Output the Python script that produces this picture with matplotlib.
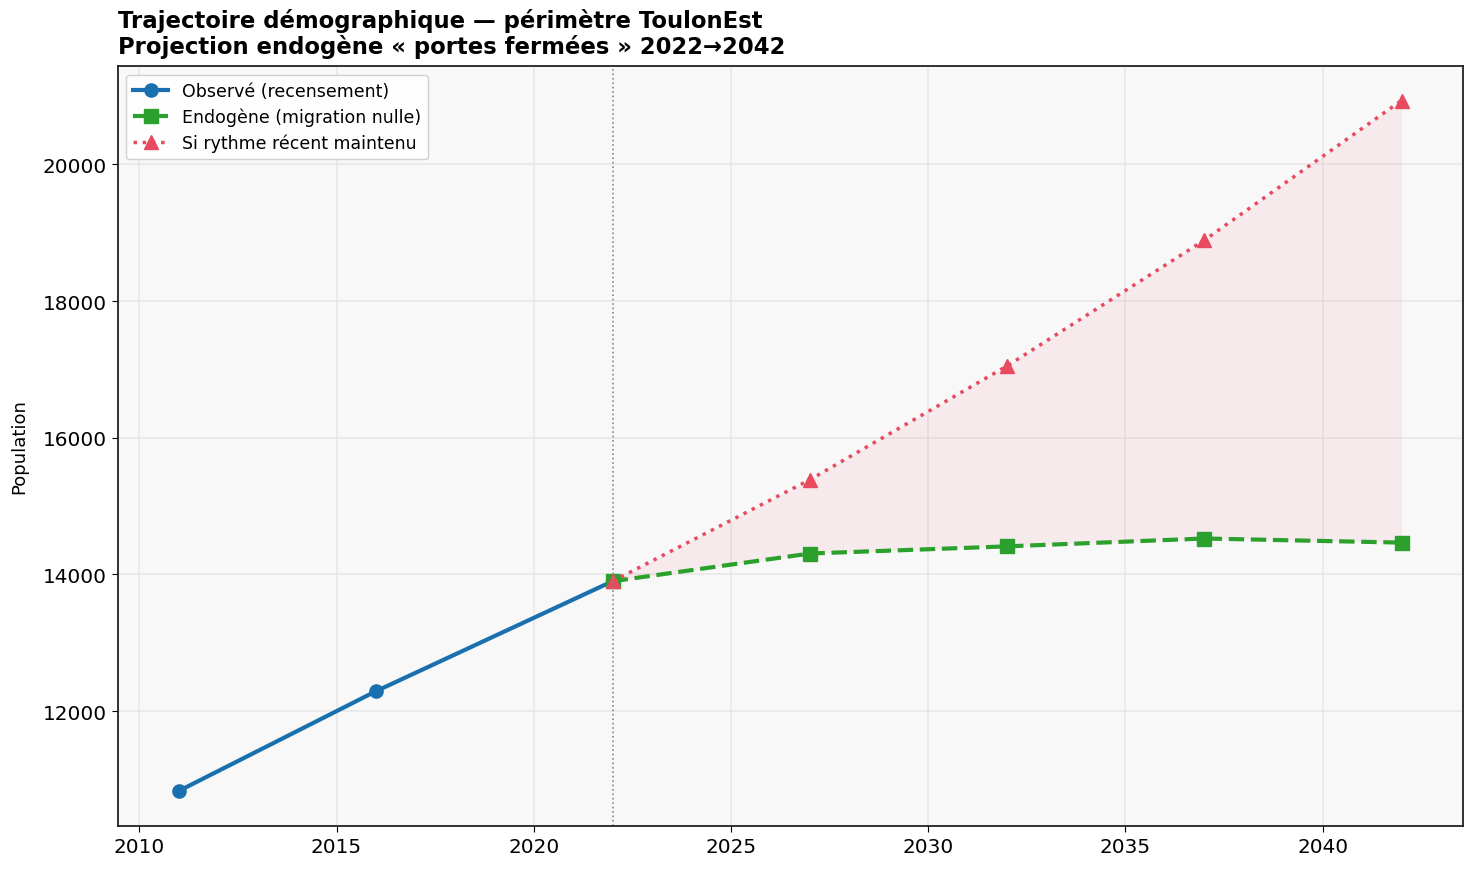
import matplotlib
matplotlib.use("Agg")
import matplotlib.pyplot as plt

# données
annees_obs = [2011, 2016, 2022]
pop_obs = [10830, 12290, 13900]

annees_proj = [2022, 2027, 2032, 2037, 2042]
pop_endogene = [13900, 14305, 14410, 14525, 14465]
pop_tendance = [13900, 15385, 17050, 18890, 20935]

fig, ax = plt.subplots(figsize=(14.7, 8.7), dpi=100)
ax.set_facecolor("#f8f8f8")

ax.fill_between(annees_proj, pop_endogene, pop_tendance, color="#e84a5f", alpha=0.08, lw=0)
ax.plot(annees_obs, pop_obs, "-o", color="#1a6faf", lw=3, ms=9.5, label="Observé (recensement)")
ax.plot(annees_proj, pop_endogene, "--s", color="#2ca02c", lw=3, ms=9.5, label="Endogène (migration nulle)")
ax.plot(annees_proj, pop_tendance, ":^", color="#e84a5f", lw=2.5, ms=9.5, label="Si rythme récent maintenu")
ax.axvline(2022, color="#888888", ls=":", lw=1.2)

ax.grid(True, color="#e6e6e6", lw=1.1)
ax.set_axisbelow(True)
for s in ax.spines.values():
    s.set_linewidth(1.3)
    s.set_color("#222222")

ax.tick_params(labelsize=14.4, length=4.5)
ax.set_ylabel("Population", fontsize=13, labelpad=10)
ax.set_title("Trajectoire démographique — périmètre ToulonEst\nProjection endogène « portes fermées » 2022→2042",
             loc="left", fontsize=16.4, fontweight="bold", linespacing=1.15, pad=9)
ax.legend(loc="upper left", fontsize=12.5, framealpha=0.9, labelspacing=0.45)

fig.subplots_adjust(left=0.08, right=0.995, top=0.923, bottom=0.05)
fig.savefig("out.png")
